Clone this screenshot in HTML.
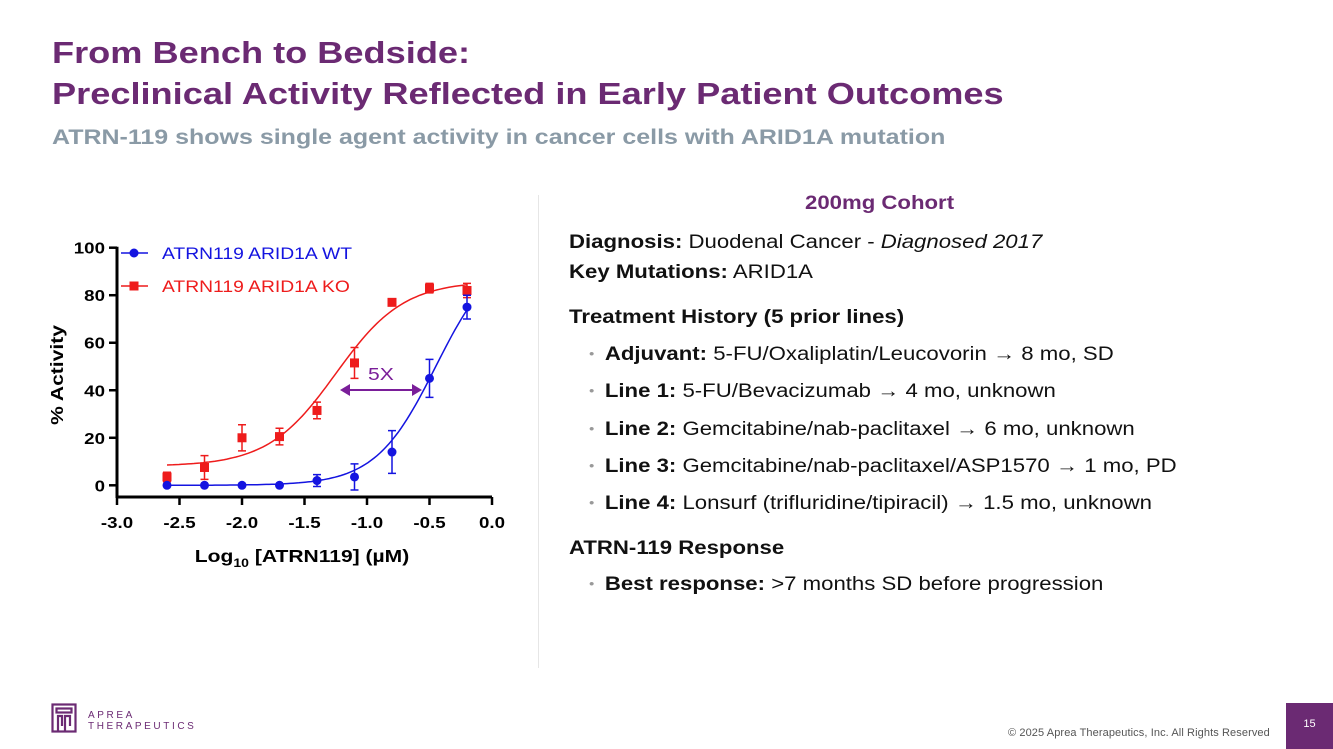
<!DOCTYPE html>
<html><head><meta charset="utf-8"><style>
body{margin:0;width:1333px;height:749px;background:#fff;position:relative;overflow:hidden;font-family:"Liberation Sans",Arial,sans-serif}
.a{position:absolute;white-space:nowrap}
.s{transform:scaleX(1.167);transform-origin:0 0}
.t{color:#6B2A73;font-weight:bold;font-size:31px;left:52px}
.r{left:569px;font-size:19px;color:#111}
.b{left:589px;font-size:19px;color:#111}
.b .dot{color:#999;margin-right:9px;font-size:13px;vertical-align:2px}
</style></head><body>
<div class="a t s" style="top:35px">From Bench to Bedside:</div>
<div class="a t s" style="top:76px">Preclinical Activity Reflected in Early Patient Outcomes</div>
<div class="a" style="left:52px;top:126px;font-size:21px;font-weight:bold;color:#8A9AA6;transform:scaleX(1.19);transform-origin:0 0">ATRN-119 shows single agent activity in cancer cells with ARID1A mutation</div>
<div class="a" style="left:538px;top:195px;width:1px;height:473px;background:#e6e6e6"></div>

<svg class="a" style="left:0;top:0" width="540" height="600">
<g id="chart"></g>
</svg>

<div class="a s" style="left:805px;top:193px;font-size:19px;font-weight:bold;color:#6B2A73">200mg Cohort</div>
<div class="a r s" style="top:232px"><b>Diagnosis:</b> Duodenal Cancer - <i>Diagnosed 2017</i></div>
<div class="a r s" style="top:262px"><b>Key Mutations:</b> ARID1A</div>
<div class="a r s" style="top:307px;font-weight:bold">Treatment History (5 prior lines)</div>
<div class="a b s" style="top:344px"><span class="dot">•</span><b>Adjuvant:</b> 5-FU/Oxaliplatin/Leucovorin → 8 mo, SD</div>
<div class="a b s" style="top:381px"><span class="dot">•</span><b>Line 1:</b> 5-FU/Bevacizumab → 4 mo, unknown</div>
<div class="a b s" style="top:419px"><span class="dot">•</span><b>Line 2:</b> Gemcitabine/nab-paclitaxel → 6 mo, unknown</div>
<div class="a b s" style="top:456px"><span class="dot">•</span><b>Line 3:</b> Gemcitabine/nab-paclitaxel/ASP1570 → 1 mo, PD</div>
<div class="a b s" style="top:493px"><span class="dot">•</span><b>Line 4:</b> Lonsurf (trifluridine/tipiracil) → 1.5 mo, unknown</div>
<div class="a r s" style="top:538px;font-weight:bold">ATRN-119 Response</div>
<div class="a b s" style="top:574px"><span class="dot">•</span><b>Best response:</b> &gt;7 months SD before progression</div>

<svg class="a" style="left:51px;top:703px" width="26" height="30">
<g fill="none" stroke="#6B2A73" stroke-width="2.2"><rect x="1.5" y="1.5" width="23" height="27"/><rect x="5.5" y="5.5" width="15" height="4"/><path d="M7 28V13h4v10M14 28V13h5v10"/></g></svg>
<div class="a" style="left:88px;top:710px;font-size:10px;letter-spacing:2.6px;color:#6B2A73;line-height:11px">APREA<br>THERAPEUTICS</div>
<div class="a" style="left:1008px;top:727px;font-size:11px;color:#555;letter-spacing:0.1px">© 2025 Aprea Therapeutics, Inc. All Rights Reserved</div>
<div class="a" style="left:1286px;top:703px;width:47px;height:46px;background:#6B2A73;color:#fff;font-size:11px;text-align:center;line-height:42px">15</div>

<script>
const xVals=[-2.6,-2.3,-2.0,-1.7,-1.4,-1.1,-0.8,-0.5,-0.2];
const wtVals=[0,0,0,0,2,3.5,14,45,75];
const wtErr=[0,0,0,0,2.5,5.5,9,8,5];
const koVals=[3.5,7.5,20,20.5,31.5,51.5,77,83,82];
const koErr=[2,5,5.5,3.5,3.5,6.5,0,2,3];
const wtFit=[0,100,-0.45,1.8];
const koFit=[8,86,-1.25,1.6];
const xTicks=[-3.0,-2.5,-2.0,-1.5,-1.0,-0.5,0.0];
const yTicks=[0,20,40,60,80,100];
const NS='http://www.w3.org/2000/svg';
const g=document.getElementById('chart');
const X=v=>492+125*v, Y=v=>485.3-2.376*v;
function el(t,a,p){const e=document.createElementNS(NS,t);for(const k in a)e.setAttribute(k,a[k]);(p||g).appendChild(e);return e;}
function sx(e,x){e.setAttribute('transform',`translate(${x} 0) scale(1.17 1) translate(${-x} 0)`);}
let e;
e=el('line',{x1:X(-3),x2:X(0),y1:497,y2:497,stroke:'#000','stroke-width':3});

e=el('line',{x1:X(-3),x2:X(-3),y1:Y(100)-1,y2:498,stroke:'#000','stroke-width':3});

xTicks.forEach(t=>{el('line',{x1:X(t),x2:X(t),y1:497,y2:505,stroke:'#000','stroke-width':2.5});
 e=el('text',{x:X(t),y:528,'text-anchor':'middle','font-size':16,'font-weight':'bold','font-family':'Liberation Sans'});e.textContent=t.toFixed(1);sx(e,X(t));
 });
yTicks.forEach(t=>{el('line',{x1:X(-3)-8,x2:X(-3),y1:Y(t),y2:Y(t),stroke:'#000','stroke-width':2.5});
 e=el('text',{x:X(-3)-12,y:Y(t)+6,'text-anchor':'end','font-size':16,'font-weight':'bold','font-family':'Liberation Sans'});e.textContent=t;sx(e,X(-3)-12);
 });
e=el('text',{x:302,y:562,'text-anchor':'middle','font-size':18,'font-weight':'bold','font-family':'Liberation Sans'});
e.innerHTML='Log<tspan font-size="12" dy="5">10</tspan><tspan dy="-5"> [ATRN119] (µM)</tspan>';sx(e,302);

e=el('text',{x:0,y:0,transform:'translate(63,375) rotate(-90) scale(1.17 1)','text-anchor':'middle','font-size':18,'font-weight':'bold','font-family':'Liberation Sans'});e.textContent='% Activity';

function fit(p,x){return p[0]+(p[1]-p[0])/(1+Math.pow(10,p[3]*(p[2]-x)));}
function series(vals,err,p,col,sq,name){
 let d='';for(let i=0;i<=100;i++){const x=xVals[0]+(xVals[xVals.length-1]-xVals[0])*i/100;d+=(i?'L':'M')+X(x).toFixed(1)+','+Y(fit(p,x)).toFixed(1);}
 e=el('path',{d:d,fill:'none',stroke:col,'stroke-width':1.5});
 
 xVals.forEach((x,i)=>{const cx=X(x),cy=Y(vals[i]);
  if(err[i]>0){const y1=Y(vals[i]+err[i]),y2=Y(vals[i]-err[i]);
   el('path',{d:`M${cx},${y1}V${y2}M${cx-4},${y1}h8M${cx-4},${y2}h8`,stroke:col,'stroke-width':1.5,fill:'none'});}
  e=sq?el('rect',{x:cx-4.5,y:cy-4.5,width:9,height:9,fill:col}):el('circle',{cx:cx,cy:cy,r:4.5,fill:col});
  });
}
series(koVals,koErr,koFit,'#EE1C1C',true,'ko');
series(wtVals,wtErr,wtFit,'#1414E0',false,'wt');
el('line',{x1:121,x2:148,y1:253,y2:253,stroke:'#1414E0','stroke-width':1.5});
el('circle',{cx:134,cy:253,r:4.5,fill:'#1414E0'});
e=el('text',{x:162,y:259,'font-size':16.5,fill:'#1414E0','font-family':'Liberation Sans'});e.textContent='ATRN119 ARID1A WT';sx(e,162);

el('line',{x1:121,x2:148,y1:286,y2:286,stroke:'#EE1C1C','stroke-width':1.5});
el('rect',{x:129.5,y:281.5,width:9,height:9,fill:'#EE1C1C'});
e=el('text',{x:162,y:292,'font-size':16.5,fill:'#EE1C1C','font-family':'Liberation Sans'});e.textContent='ATRN119 ARID1A KO';sx(e,162);

e=el('path',{d:'M348,390H414',stroke:'#7A1E99','stroke-width':2});

el('path',{d:'M340,390l10,-6v12z',fill:'#7A1E99'});
el('path',{d:'M422,390l-10,-6v12z',fill:'#7A1E99'});
e=el('text',{x:368,y:380,'font-size':18,fill:'#7A1E99','font-family':'Liberation Sans'});e.textContent='5X';sx(e,368);

</script>
</body></html>
